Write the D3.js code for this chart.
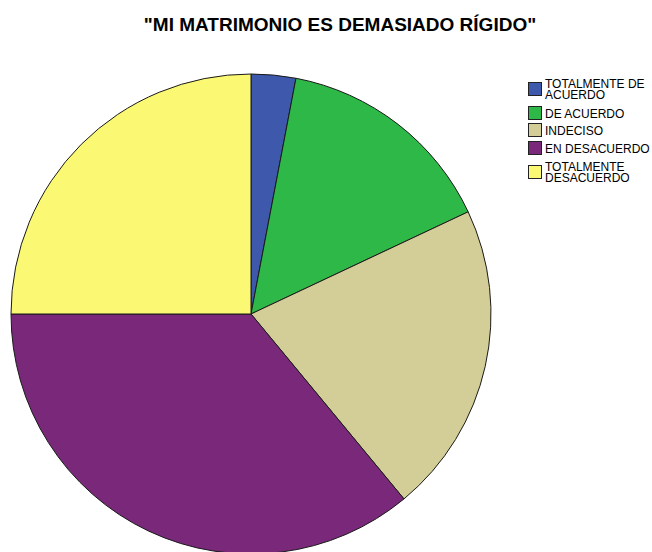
<!DOCTYPE html>
<html>
<head>
<meta charset="utf-8">
<script src="https://cdn.jsdelivr.net/npm/d3@7"></script>
<style>
  html, body { margin: 0; padding: 0; background: #fff; }
  svg { display: block; }
</style>
</head>
<body>
<svg id="chart" width="652" height="552"></svg>
<script>
// Response categories and their shares (percent)
const categories = ["TOTALMENTE DE ACUERDO", "DE ACUERDO", "INDECISO", "EN DESACUERDO", "TOTALMENTE DESACUERDO"];
const legendLines = [["TOTALMENTE DE", "ACUERDO"], ["DE ACUERDO"], ["INDECISO"], ["EN DESACUERDO"], ["TOTALMENTE", "DESACUERDO"]];
const values = [3, 15, 21, 36, 25];
const colors = ["#3e58ac", "#2eb848", "#d3ce97", "#79287a", "#fbf873"];
const title = "\"MI MATRIMONIO ES DEMASIADO RÍGIDO\"";

const svg = d3.select("#chart");
const cx = 251, cy = 314, r = 240;

svg.append("text")
  .attr("x", 340).attr("y", 31)
  .attr("text-anchor", "middle")
  .attr("font-family", "Liberation Sans, Arial, sans-serif")
  .attr("font-weight", "bold")
  .attr("font-size", 19)
  .attr("fill", "#000")
  .text(title);

const color = d3.scaleOrdinal().domain(categories).range(colors);
const pie = d3.pie().sort(null).value(d => d.v);
const arc = d3.arc().innerRadius(0).outerRadius(r);
const data = categories.map((c, i) => ({ c, v: values[i] }));

const g = svg.append("g").attr("transform", `translate(${cx},${cy})`);
g.selectAll("path")
  .data(pie(data))
  .join("path")
  .attr("d", arc)
  .attr("fill", d => color(d.data.c))
  .attr("stroke", "#1a1a1a")
  .attr("stroke-width", 1)
  .attr("stroke-linejoin", "round");

// Legend: two-line labels are packed tightly beside their swatch
const legendY = [89, 113, 130, 148, 172];
const lg = svg.append("g");
categories.forEach((c, i) => {
  const y = legendY[i];
  lg.append("rect")
    .attr("x", 528.5).attr("y", y - 6.5)
    .attr("width", 13).attr("height", 13)
    .attr("fill", color(c))
    .attr("stroke", "#222").attr("stroke-width", 1);
  const lines = legendLines[i];
  const t = lg.append("text")
    .attr("font-family", "Liberation Sans, Arial, sans-serif")
    .attr("font-size", 12)
    .attr("fill", "#000");
  lines.forEach((ln, j) => {
    const off = lines.length === 1 ? 4.5 : (j === 0 ? -1 : 10);
    t.append("tspan").attr("x", 545).attr("y", y + off).text(ln);
  });
});
</script>
</body>
</html>
